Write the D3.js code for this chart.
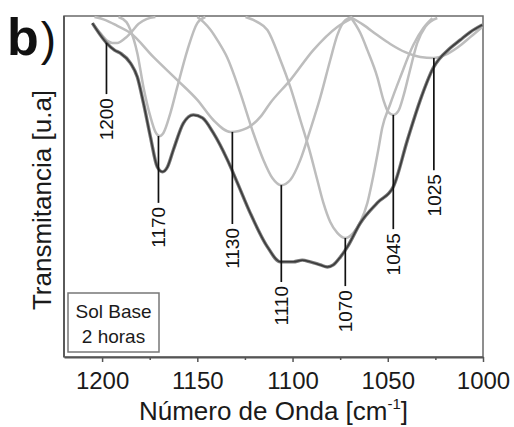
<!DOCTYPE html>
<html>
<head>
<meta charset="utf-8">
<script src="https://cdn.jsdelivr.net/npm/d3@7"></script>
<style>
    body { margin: 0; background: #fff; }
    svg { display: block; font-family: Arial, "Liberation Sans", sans-serif; }
</style>
</head>
<body>
<div id="chart"></div>
<script>
// x axis
const wavenumberDomain = [1220, 1000];
const majorTicks = [1200, 1150, 1100, 1050, 1000];
const minorTicks = [1175, 1125, 1075, 1025];

// measured spectrum [wavenumber, transmittance a.u.]
const totalSpectrum = [
    [1205.1, 97.9], [1200.9, 94.4], [1197.7, 92.1], [1193.5, 90.0], [1190.4, 89.1],
    [1185.1, 86.2], [1181.5, 82.1], [1178.3, 74.5], [1174.6, 64.5], [1171.0, 55.7],
    [1168.3, 54.3], [1165.7, 55.7], [1162.6, 60.7], [1157.3, 68.6], [1152.1, 71.0],
    [1147.3, 70.1], [1141.6, 65.7], [1134.2, 57.8], [1128.9, 51.0], [1122.2, 42.2],
    [1113.2, 32.3], [1106.4, 27.9], [1099.6, 27.9], [1094.9, 28.4], [1090.7, 27.9],
    [1085.4, 27.0], [1081.7, 26.4], [1078.6, 27.0], [1074.9, 29.3], [1071.2, 32.3],
    [1064.4, 39.3], [1055.5, 45.2], [1047.1, 49.9], [1039.7, 63.6], [1032.9, 75.4],
    [1026.1, 84.8], [1017.2, 90.6], [1011.9, 93.0], [1006.7, 95.3], [1000.4, 97.4]
];

// deconvoluted bands
const band1200 = [
    [1205.1, 97.9], [1200.9, 95.0], [1197.2, 92.7], [1194.6, 92.1], [1192.0, 92.1],
    [1188.3, 93.3], [1184.6, 95.3], [1180.9, 97.7], [1176.7, 99.1], [1172.0, 99.7]
];
const band1170 = [
    [1191.4, 99.7], [1187.2, 98.2], [1185.1, 95.9], [1181.5, 89.1], [1178.3, 79.2],
    [1174.6, 70.4], [1172.0, 66.0], [1169.9, 64.8], [1167.8, 65.7], [1164.1, 71.6],
    [1160.5, 79.2], [1155.2, 90.0], [1150.0, 97.9], [1145.8, 99.7]
];
const band1130 = [
    [1204.0, 99.7], [1198.2, 98.8], [1192.0, 97.1], [1185.1, 95.0], [1173.1, 88.0],
    [1160.5, 81.2], [1150.0, 75.4], [1141.6, 69.5], [1132.6, 66.0], [1123.7, 67.2],
    [1116.9, 70.4], [1111.7, 74.5], [1101.2, 81.2], [1089.1, 90.0], [1076.5, 96.8],
    [1068.6, 99.4]
];
const band1110 = [
    [1150.0, 99.7], [1146.7, 98.2], [1143.0, 95.9], [1138.9, 92.4], [1134.2, 87.7],
    [1127.4, 77.4], [1120.6, 65.7], [1115.3, 57.8], [1110.6, 52.5], [1105.9, 50.4],
    [1101.2, 51.9], [1095.9, 57.8], [1090.7, 66.6], [1085.4, 76.2], [1080.2, 87.1],
    [1076.5, 94.4], [1072.3, 98.8], [1068.6, 99.7]
];
const band1070 = [
    [1124.7, 99.7], [1118.4, 98.2], [1113.2, 95.9], [1106.4, 87.1], [1101.2, 79.2],
    [1095.9, 69.5], [1090.7, 59.8], [1087.0, 51.9], [1083.8, 45.2], [1080.2, 39.6],
    [1076.5, 36.4], [1072.3, 34.9], [1068.1, 36.4], [1064.4, 39.6], [1060.7, 45.2],
    [1057.6, 53.1], [1055.0, 60.7], [1052.9, 67.2], [1048.7, 74.2], [1043.4, 82.1],
    [1036.6, 91.5], [1031.3, 96.5], [1026.6, 99.4]
];
const band1045 = [
    [1069.6, 99.7], [1064.4, 95.0], [1060.7, 90.0], [1055.5, 82.1], [1052.3, 75.4],
    [1049.7, 71.8], [1047.1, 71.0], [1044.5, 72.1], [1041.8, 76.5], [1038.7, 83.3],
    [1034.5, 92.1], [1030.3, 96.8], [1024.0, 99.4]
];
const band1025 = [
    [1069.6, 99.7], [1062.8, 97.4], [1055.5, 94.4], [1048.7, 91.8], [1040.8, 89.4],
    [1032.9, 88.0], [1026.1, 87.7], [1019.8, 88.6], [1013.0, 90.9], [1006.7, 93.8],
    [1000.4, 96.8]
];
const bands = [band1200, band1170, band1130, band1110, band1070, band1045, band1025];

// peak markers
const peakLabels = ['1200', '1170', '1130', '1110', '1070', '1045', '1025'];
const peakPositions = [1197.7, 1170.4, 1131.6, 1105.9, 1072.3, 1047.1, 1025.8];
const peakLineTop = [92.1, 64.8, 66.0, 50.4, 34.9, 71.0, 87.7];
const peakLineBottom = [77.1, 45.2, 39.0, 22.0, 20.8, 37.5, 54.8];

const legendLines = ['Sol Base', '2 horas'];

const width = 514;
const height = 427;
const margin = { top: 16, right: 31, bottom: 70, left: 64 };
const innerWidth = width - margin.left - margin.right;
const innerHeight = height - margin.top - margin.bottom;

const svg = d3.select('#chart').append('svg')
    .attr('width', width)
    .attr('height', height);

const chartGroup = svg.append('g')
    .attr('transform', `translate(${margin.left},${margin.top})`);

const xScale = d3.scaleLinear().domain(wavenumberDomain).range([0, innerWidth]);
const yScale = d3.scaleLinear().domain([0, 100]).range([innerHeight, 0]);

const lineGenerator = d3.line()
    .x((d) => xScale(d[0]))
    .y((d) => yScale(d[1]))
    .curve(d3.curveMonotoneX);

// frame (top and right)
chartGroup.append('rect')
    .attr('x', 0)
    .attr('y', 0)
    .attr('width', innerWidth)
    .attr('height', innerHeight)
    .attr('fill', 'none')
    .attr('stroke', '#6a6a6a')
    .attr('stroke-width', 1.5);

// bands
chartGroup.selectAll('.band')
    .data(bands)
    .enter()
    .append('path')
    .attr('class', 'band')
    .attr('fill', 'none')
    .attr('stroke', '#bdbdbd')
    .attr('stroke-width', 2.5)
    .attr('stroke-linejoin', 'round')
    .attr('d', lineGenerator);

// total spectrum
chartGroup.append('path')
    .datum(totalSpectrum)
    .attr('fill', 'none')
    .attr('stroke', '#7a7a7a')
    .attr('stroke-width', 3.4)
    .attr('d', lineGenerator);

chartGroup.append('path')
    .datum(totalSpectrum)
    .attr('fill', 'none')
    .attr('stroke', '#3a3a3a')
    .attr('stroke-width', 1.5)
    .attr('d', lineGenerator);

// peak markers
const peakGroup = chartGroup.selectAll('.peak')
    .data(peakLabels)
    .enter()
    .append('g')
    .attr('class', 'peak');

peakGroup.append('line')
    .attr('x1', (d, i) => xScale(peakPositions[i]))
    .attr('x2', (d, i) => xScale(peakPositions[i]))
    .attr('y1', (d, i) => yScale(peakLineTop[i]))
    .attr('y2', (d, i) => yScale(peakLineBottom[i]))
    .attr('stroke', '#111')
    .attr('stroke-width', 1.7);

// labels rotated about their own anchor point
peakGroup.append('text')
    .attr('x', (d, i) => xScale(peakPositions[i]))
    .attr('y', (d, i) => yScale(peakLineBottom[i]) + 4)
    .attr('transform', (d, i) => `rotate(-90,${xScale(peakPositions[i])},${yScale(peakLineBottom[i]) + 4})`)
    .attr('text-anchor', 'end')
    .attr('dy', '0.36em')
    .attr('font-size', 19)
    .attr('fill', '#111')
    .text((d) => d);

// bottom axis
chartGroup.append('g')
    .attr('transform', `translate(0,${innerHeight})`)
    .call(d3.axisBottom(xScale).tickValues(minorTicks).tickSize(3).tickFormat(''))
    .call((group) => group.select('.domain').remove())
    .call((group) => group.selectAll('line').attr('stroke', '#555').attr('stroke-width', 1.5));

chartGroup.append('g')
    .attr('transform', `translate(0,${innerHeight})`)
    .call(d3.axisBottom(xScale)
        .tickValues(majorTicks)
        .tickFormat(d3.format('d'))
        .tickSize(5)
        .tickPadding(10)
        .tickSizeOuter(0))
    .call((group) => group.select('.domain').attr('stroke', '#555').attr('stroke-width', 1.8))
    .call((group) => group.selectAll('line').attr('stroke', '#555').attr('stroke-width', 1.5))
    .call((group) => group.selectAll('text')
        .attr('font-size', 24)
        .attr('font-family', 'Arial, "Liberation Sans", sans-serif')
        .attr('fill', '#1a1a1a'));

// left axis line
chartGroup.append('line')
    .attr('x1', 0)
    .attr('x2', 0)
    .attr('y1', 0)
    .attr('y2', innerHeight)
    .attr('stroke', '#555')
    .attr('stroke-width', 1.8);

// axis titles
const xTitle = svg.append('text')
    .attr('x', margin.left + innerWidth / 2)
    .attr('y', 420)
    .attr('text-anchor', 'middle')
    .attr('font-size', 26)
    .attr('fill', '#1a1a1a');
xTitle.append('tspan').text('Número de Onda [cm');
xTitle.append('tspan').attr('font-size', 15).attr('dy', -11).text('-1');
xTitle.append('tspan').attr('dy', 11).text(']');

svg.append('text')
    .attr('x', 51)
    .attr('y', margin.top + 184)
    .attr('transform', `rotate(-90,51,${margin.top + 184})`)
    .attr('text-anchor', 'middle')
    .attr('font-size', 26)
    .attr('fill', '#1a1a1a')
    .text('Transmitancia [u.a]');

// panel tag
const panelTag = svg.append('text')
    .attr('x', 7)
    .attr('y', 55)
    .attr('fill', '#111');
panelTag.append('tspan').attr('font-size', 52).attr('font-weight', 'bold').text('b');
panelTag.append('tspan').attr('font-size', 46).attr('dx', 2).text(')');

// legend box
const legend = svg.append('g').attr('transform', 'translate(68,293)');
legend.append('rect')
    .attr('width', 91)
    .attr('height', 59)
    .attr('fill', '#fff')
    .attr('stroke', '#777')
    .attr('stroke-width', 1.5);
legend.selectAll('text')
    .data(legendLines)
    .enter()
    .append('text')
    .attr('x', 45.5)
    .attr('y', (d, i) => 25 + i * 25)
    .attr('text-anchor', 'middle')
    .attr('font-size', 19)
    .attr('fill', '#1a1a1a')
    .text((d) => d);
</script>
</body>
</html>
